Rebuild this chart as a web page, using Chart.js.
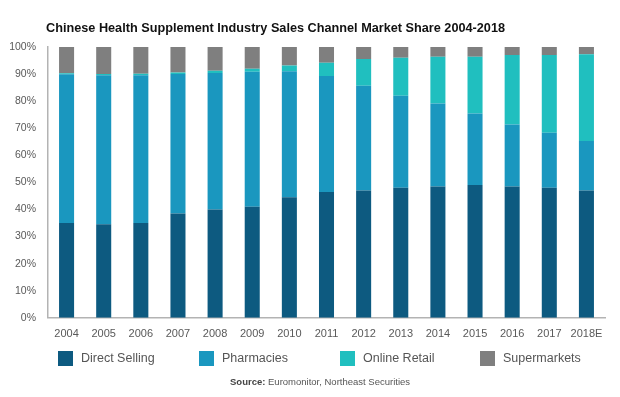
<!DOCTYPE html>
<html>
<head>
<meta charset="utf-8">
<script src="https://cdn.jsdelivr.net/npm/chart.js@4.4.1/dist/chart.umd.min.js"></script>
<style>
  html, body { margin: 0; padding: 0; background: #fff; }
  #wrap { position: relative; width: 620px; height: 397px; overflow: hidden; font-family: "Liberation Sans", Arial, sans-serif; }
  #chart { position: absolute; left: 0; top: 0; }
  #title { position: absolute; left: 46px; top: 20px; font-weight: bold; font-size: 12.7px; color: #111; white-space: nowrap; line-height: 16px; }
  .leg { position: absolute; top: 351px; height: 15px; display: flex; align-items: center; white-space: nowrap; }
  .leg .sw { width: 15px; height: 15px; margin-right: 8px; }
  .leg .tx { font-size: 12.5px; color: #555; line-height: 15px; }
  #source { position: absolute; left: 230px; top: 376px; font-size: 9.5px; color: #555; white-space: nowrap; line-height: 12px; }
  #source b { color: #444; }
</style>
</head>
<body>
<div id="wrap">
  <canvas id="chart" width="620" height="397"></canvas>
  <div id="title">Chinese Health Supplement Industry Sales Channel Market Share 2004-2018</div>
  <div id="legend"></div>
  <div id="source"><b>Source:</b> Euromonitor, Northeast Securities</div>
</div>
<script>
const categories = ['2004','2005','2006','2007','2008','2009','2010','2011','2012','2013','2014','2015','2016','2017','2018E'];
const directSelling = [35.0, 34.5, 35.0, 38.5, 40.0, 41.0, 44.5, 46.5, 47.0, 48.0, 48.5, 49.0, 48.5, 48.0, 47.0];
const pharmacies    = [54.9, 55.1, 54.6, 51.5, 50.4, 49.9, 46.5, 42.8, 38.7, 34.0, 30.6, 26.4, 22.9, 20.3, 18.3];
const onlineRetail  = [0.4, 0.4, 0.5, 0.6, 0.8, 1.1, 2.2, 4.9, 9.9, 14.0, 17.3, 21.0, 25.6, 28.7, 32.0];
const supermarkets  = [9.7, 10.0, 9.9, 9.4, 8.8, 8.0, 6.8, 5.8, 4.4, 4.0, 3.6, 3.6, 3.0, 3.0, 2.7];
const seriesNames = ['Direct Selling', 'Pharmacies', 'Online Retail', 'Supermarkets'];
const yTicks = [0,10,20,30,40,50,60,70,80,90,100];

const colors = ['#0d5a80', '#1a97bf', '#20bfbf', '#7f7f7f'];
const seriesData = [directSelling, pharmacies, onlineRetail, supermarkets];

const chart = new Chart(document.getElementById('chart'), {
  type: 'bar',
  data: {
    labels: categories,
    datasets: seriesNames.map((n, i) => ({
      label: n,
      data: seriesData[i],
      backgroundColor: colors[i],
      borderWidth: 0,
      categoryPercentage: 1.0,
      barPercentage: 0.405
    }))
  },
  options: {
    responsive: false,
    animation: false,
    devicePixelRatio: 1,
    layout: { padding: { top: 47, left: 10, right: 15, bottom: 46 } },
    plugins: { legend: { display: false }, title: { display: false }, tooltip: { enabled: false } },
    scales: {
      x: {
        stacked: true,
        grid: { display: false, drawTicks: false },
        border: { display: true, color: '#b3b3b3', width: 1.5 },
        ticks: { color: '#595959', font: { family: 'Liberation Sans', size: 11 }, padding: 10, maxRotation: 0, autoSkip: false }
      },
      y: {
        stacked: true,
        min: 0, max: 100,
        afterBuildTicks: (s) => { s.ticks = yTicks.map(v => ({ value: v })); },
        afterFit: (s) => { s.width = 38; },
        grid: { display: false, drawTicks: false },
        border: { display: true, color: '#b3b3b3', width: 1.5 },
        ticks: { color: '#595959', font: { family: 'Liberation Sans', size: 10.5 }, padding: 12, callback: v => v + '%' }
      }
    }
  }
});

// HTML legend evenly spaced
const legend = document.getElementById('legend');
const legX = [58, 199, 340, 480];
seriesNames.forEach((n, i) => {
  const d = document.createElement('div');
  d.className = 'leg';
  d.style.left = legX[i] + 'px';
  d.innerHTML = '<div class="sw" style="background:' + colors[i] + '"></div><div class="tx">' + n + '</div>';
  legend.appendChild(d);
});
</script>
</body>
</html>
